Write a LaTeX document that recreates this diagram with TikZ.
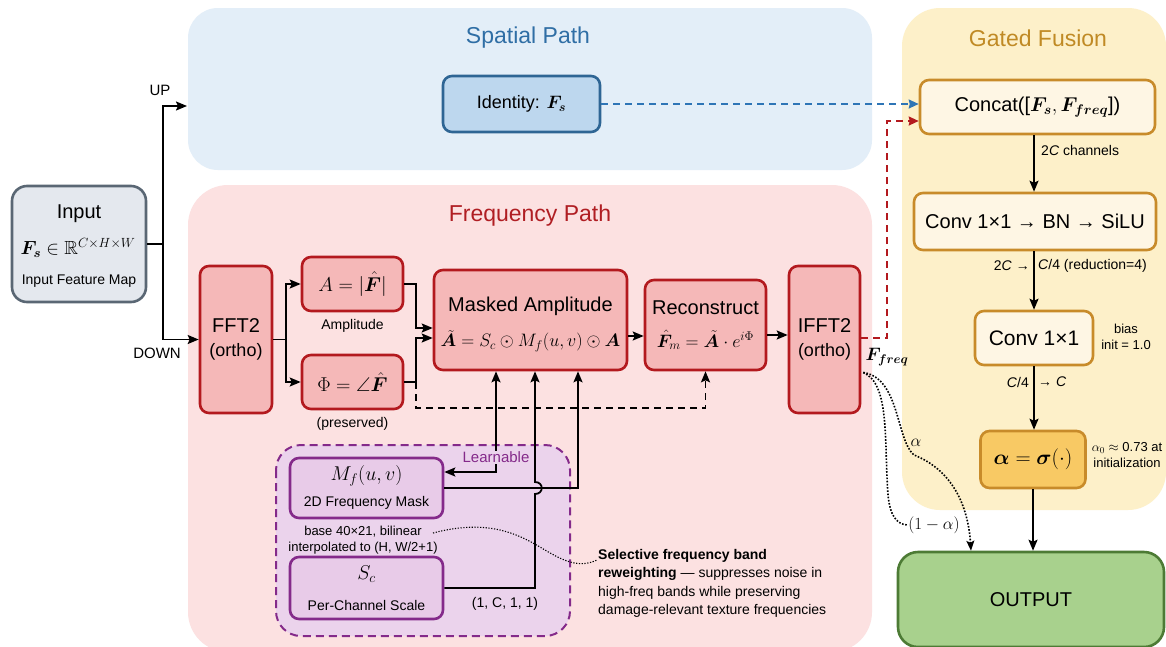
\RequirePackage{fix-cm}
\documentclass[tikz,border=0pt]{standalone}
\usepackage{amsmath,amssymb}
\usepackage{bm}
\usepackage[no-math]{fontspec}
\setmainfont{Liberation Sans}
\usetikzlibrary{arrows.meta,calc}

\definecolor{spfill}{HTML}{E3EEF8}
\definecolor{sptitle}{HTML}{2F6EA5}
\definecolor{idfill}{HTML}{BDD7EE}
\definecolor{iddraw}{HTML}{2E6594}
\definecolor{bluearr}{HTML}{2E75B6}
\definecolor{frfill}{HTML}{FCE1E1}
\definecolor{frtitle}{HTML}{B01E23}
\definecolor{frbox}{HTML}{F5B8B8}
\definecolor{frdraw}{HTML}{B3191E}
\definecolor{lnfill}{HTML}{EBD3EC}
\definecolor{lndraw}{HTML}{842A8A}
\definecolor{mffill}{HTML}{E8CBE8}
\definecolor{gffill}{HTML}{FDF0C9}
\definecolor{gftitle}{HTML}{C08A25}
\definecolor{gfbox}{HTML}{FEF6E4}
\definecolor{gfdraw}{HTML}{C88B2A}
\definecolor{alfill}{HTML}{F8C964}
\definecolor{outfill}{HTML}{A8D18D}
\definecolor{outdraw}{HTML}{4D7B35}
\definecolor{infill}{HTML}{E4E8EE}
\definecolor{indraw}{HTML}{5A6774}

\newcommand\fsize[2]{\fontsize{#1}{#2}\selectfont}

\tikzset{
  box/.style={draw, line width=2.6pt, rounded corners=9pt, align=center, inner sep=2pt},
  inbox/.style={box, draw=indraw, fill=infill, rounded corners=15pt},
  idbox/.style={box, draw=iddraw, fill=idfill},
  redbox/.style={box, draw=frdraw, fill=frbox},
  purbox/.style={box, draw=lndraw, fill=mffill},
  goldbox/.style={box, draw=gfdraw, fill=gfbox},
  lbl/.style={inner sep=1pt},
  big/.style={lbl, font=\fsize{20}{25}},
  mid/.style={lbl, font=\fsize{18}{22}},
  small/.style={lbl, font=\fsize{14}{17}},
  tiny/.style={lbl, font=\fsize{13}{16}},
  title/.style={lbl, font=\fsize{23}{28}},
  arr/.style={line width=1.8pt, -{Stealth[length=11pt,width=9pt,inset=2pt]}},
  plain/.style={line width=1.8pt},
  dasharr/.style={arr, dash pattern=on 7pt off 5pt},
  dotline/.style={line width=1.6pt, dash pattern=on 1.6pt off 1.6pt},
  dotarr/.style={dotline, -{Stealth[length=10pt,width=8pt,inset=2pt]}},
}

\begin{document}
\begin{tikzpicture}[x=1pt,y=-1pt]
\useasboundingbox (0,0) rectangle (1166,646);
\fill[white] (0,0) rectangle (1166,646);

% ---------- panels ----------
\fill[spfill, rounded corners=30pt] (188,8) rectangle (872,170);
\fill[frfill, rounded corners=40pt] (188,185) rectangle (872,652);
\fill[gffill, rounded corners=38pt] (902,8) rectangle (1166,510);
\draw[lndraw, fill=lnfill, line width=2pt, dash pattern=on 8pt off 5pt, rounded corners=25pt]
  (276,445) rectangle (570,636);

\node[title, text=sptitle] (tsp) at (528,38) {Spatial Path};
\node[title, text=frtitle] (tfr) at (530,216) {Frequency Path};
\node[title, text=gftitle] (tgf) at (1038,38) {Gated Fusion};

% ---------- input ----------
\node[inbox, minimum width=134pt, minimum height=116pt] (inp) at (79,244) {};
\node[big] (inpt) at (79,214) {Input};
\node[lbl, font=\fsize{19}{23}] (inpm) at (78,248) {$\bm{F_s}\in\mathbb{R}^{C\times H\times W}$};
\node[small] (inpl) at (79,281) {Input Feature Map};

% ---------- spatial path ----------
\node[idbox, font=\fsize{18}{22}, minimum width=157pt, minimum height=56pt] (ident) at (521.5,104) {Identity: $\bm{F_s}$};

% ---------- frequency path ----------
\node[redbox, minimum width=72pt, minimum height=147pt] (fft) at (236,339.5) {};
\node[big] (fftt) at (236,326) {FFT2};
\node[mid] (ffto) at (236,352) {(ortho)};

\node[redbox, font=\fsize{20}{25}, minimum width=101pt, minimum height=54pt] (anode) at (352.5,284) {$A=|\hat{\bm F}|$};
\node[small] (alab) at (352.5,326) {Amplitude};
\node[redbox, font=\fsize{20}{25}, minimum width=101pt, minimum height=54pt] (phinode) at (352.5,382) {$\Phi=\angle\hat{\bm F}$};
\node[small] (plab) at (352.5,424) {(preserved)};

\node[redbox, minimum width=193pt, minimum height=100pt] (masked) at (530.5,320) {};
\node[big] (maskt) at (530.5,306) {Masked Amplitude};
\node[lbl, font=\fsize{18}{22}] (maskf) at (530.5,341) {$\tilde{\bm A}=S_c\odot M_f(u,v)\odot\bm A$};

\node[redbox, minimum width=121pt, minimum height=90pt] (recon) at (705.5,325) {};
\node[big] (recont) at (705.5,308) {Reconstruct};
\node[lbl, font=\fsize{18}{22}] (reconf) at (705.5,340) {$\hat{\bm F}_m=\tilde{\bm A}\cdot e^{i\Phi}$};

\node[redbox, minimum width=71pt, minimum height=147pt] (ifft) at (824.5,339.5) {};
\node[big] (ifftt) at (824.5,326) {IFFT2};
\node[mid] (iffto) at (824.5,352) {(ortho)};
\node[lbl, font=\fsize{18}{22}] (ffreq) at (887,357) {$\bm{F_{freq}}$};

% ---------- learnable parameters ----------
\node[purbox, minimum width=153pt, minimum height=60pt] (mf) at (366.5,488) {};
\node[lbl, font=\fsize{20}{24}] (mft) at (366.5,476) {$M_f(u,v)$};
\node[small] (mfl) at (366.5,503) {2D Frequency Mask};
\node[tiny, align=center] (mfnote) at (363,540) {base 40×21, bilinear\\interpolated to (H, W/2+1)};
\node[purbox, minimum width=153pt, minimum height=62pt] (sc) at (366.5,588) {};
\node[lbl, font=\fsize{20}{24}] (sct) at (366.5,574) {$S_c$};
\node[small] (scl) at (366.5,605) {Per-Channel Scale};
\node[small] (scdim) at (505,604) {(1, C, 1, 1)};

\node[lbl, font=\fsize{14}{18.5}, align=left, anchor=north west] (selnote) at (597,548)
  {\textbf{Selective frequency band}\\\textbf{reweighting} — suppresses noise in\\high-freq bands while preserving\\damage-relevant texture frequencies};

% ---------- gated fusion ----------
\node[goldbox, font=\fsize{20}{25}, minimum width=235pt, minimum height=54pt] (concat) at (1037.5,107) {Concat([$\bm{F_s},\bm{F_{freq}}$])};
\node[goldbox, font=\fsize{20}{25}, minimum width=242pt, minimum height=57pt] (conv1) at (1035,221.5) {Conv 1×1 → BN → SiLU};
\node[goldbox, font=\fsize{21}{25}, minimum width=118pt, minimum height=54pt] (conv2) at (1034,338) {Conv 1×1};
\node[goldbox, fill=alfill, font=\fsize{21}{25}, minimum width=105pt, minimum height=57pt] (alpha) at (1033,459.5) {$\bm{\alpha}=\bm{\sigma}(\cdot)$};
\node[box, draw=outdraw, fill=outfill, font=\fsize{20}{25}, rounded corners=20pt, minimum width=266pt, minimum height=95pt] (out) at (1031,599.5) {OUTPUT};

\node[small, anchor=west] (l2c) at (1040,150) {2\textit{C} channels};
\node[small, anchor=east] (lred1) at (1031,266) {2\textit{C} →};
\node[small, anchor=west] (lred2) at (1037,266) {\textit{C}/4 (reduction=4)};
\node[small, anchor=east] (lc4) at (1030,382) {\textit{C}/4};
\node[small, anchor=west] (lc) at (1037,382) {→ \textit{C}};
\node[tiny, align=center] (lbias) at (1126,337) {bias\\init = 1.0};
\node[tiny, align=center] (linit) at (1127,455) {$\alpha_0\approx$ 0.73 at\\initialization};

% ---------- input split ----------
\coordinate (split) at (163,244);
\coordinate (upend) at (187,106);
\draw[plain] (inp.east) -- (split);
\draw[arr] (split) |- (upend);
\draw[arr] (split) |- (fft.west);
\node[lbl, font=\fsize{15}{18}] (lup) at (160,90) {UP};
\node[lbl, font=\fsize{15}{18}] (ldown) at (157,353) {DOWN};

% ---------- frequency connectors ----------
\coordinate (fftj) at ($(fft.east)+(13,0)$);
\draw[plain] (fft.east) -- (fftj);
\draw[arr] (fftj) |- (anode.west);
\draw[arr] (fftj) |- (phinode.west);
\draw[arr] (anode.east) -- ++(12,0) |- ([yshift=-8pt]masked.west);
\draw[arr] (phinode.east) -- ++(12,0) |- ([yshift=-18pt]masked.west);
\draw[dasharr] ($(phinode.east)+(12,0)$) |- ($(recon.south)+(0,37)$) -- (recon.south);
\draw[arr] ([yshift=-16pt]masked.east) -- ([yshift=-16pt]masked.east -| recon.west);
\draw[arr] ([yshift=-10pt]recon.east) -- ([yshift=-10pt]recon.east -| ifft.west);

% learnable parameters into the mask
\draw[line width=1.8pt, {Stealth[length=11pt,width=9pt,inset=2pt]}-{Stealth[length=11pt,width=9pt,inset=2pt]}]
  ([xshift=-34.5pt]masked.south) |- ([yshift=16pt]mf.east);
\node[lbl, fill=lnfill, font=\fsize{15}{18}, text=lndraw] (learn) at (496,457) {Learnable};
\draw[arr] (mf.east) -| ([xshift=47.5pt]masked.south);
\coordinate (hopA) at (535,494);
\coordinate (hopB) at (535,482);
\draw[arr] (sc.east) -| (hopA) .. controls +(9,0) and +(9,0) .. (hopB) -- (hopB |- masked.south);

% note on the mask
\draw[dotline, line width=1.1pt, dash pattern=on 1.2pt off 1.6pt] (433,533) .. controls (490,518) and (520,535) .. (545,550) .. controls (565,562) and (580,568) .. ([yshift=-12pt]selnote.north west);

% ---------- paths into fusion ----------
\draw[dasharr, bluearr, -{Stealth[length=10pt,width=9pt,inset=1pt]}] (ident.east) -- (ident.east -| concat.west);
\draw[dasharr, frdraw, -{Stealth[length=10pt,width=9pt,inset=1pt]}] ([yshift=1.5pt]ifft.east) -- ++(26,0) |- ([yshift=-14pt]concat.west);

\draw[arr] (concat.south -| conv2.north) -- (conv1.north -| conv2.north);
\draw[arr] (conv1.south -| conv2.north) -- (conv2.north);
\draw[arr] (conv2.south) -- (conv2.south |- alpha.north);
\draw[arr] (alpha.south) -- (alpha.south |- out.north);

% ---------- weighted sum ----------
\coordinate (fq) at ($(ifft.east)+(2,33)$);
\node[lbl, font=\fsize{17}{20}] (la) at (916,443) {$\alpha$};
\node[lbl, font=\fsize{17}{20}] (l1a) at (934,525) {$(1-\alpha)$};
\draw[dotarr] (fq) .. controls (900,378) and (896,440) .. (914,455) .. controls (952,470) and (968,505) .. ([xshift=-60pt]out.north);
\draw[dotline] (fq) .. controls (890,384) and (884,440) .. (888,495) .. controls (890,515) and (896,524) .. (l1a.west);

\end{tikzpicture}
\end{document}
